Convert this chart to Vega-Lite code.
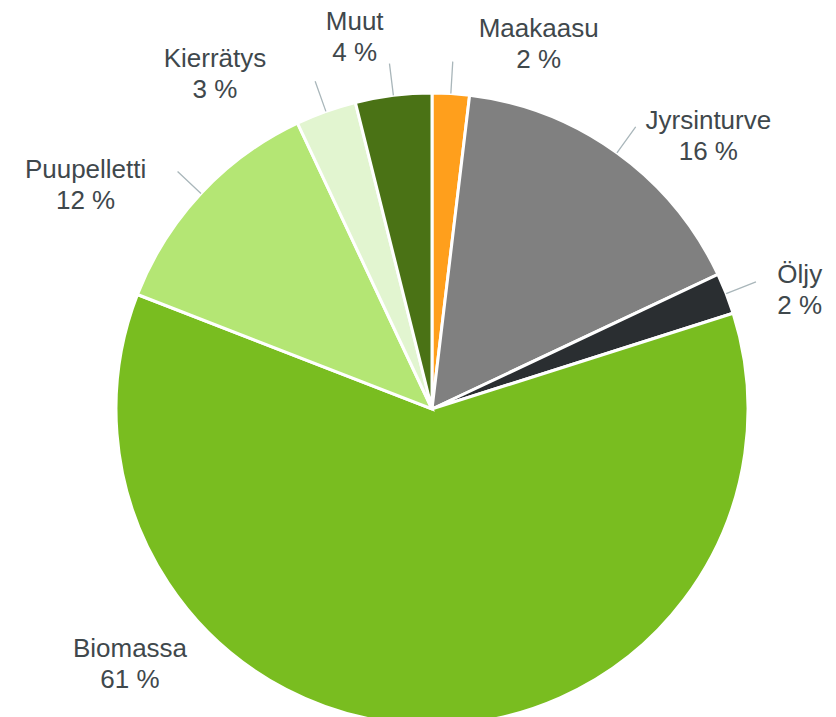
{
  "$schema": "https://vega.github.io/schema/vega-lite/v6.json",
  "autosize": {"type": "none"},
  "padding": {"left": 28, "top": 101, "right": 0, "bottom": 0},
  "width": 808,
  "height": 616,
  "background": "white",
  "config": {"view": {"stroke": null}},
  "data": {
    "values": [
      {"i": 0, "k": "Maakaasu", "v": 1.9, "label": "Maakaasu\n2 %"},
      {"i": 1, "k": "Jyrsinturve", "v": 16.1, "label": "Jyrsinturve\n16 %"},
      {"i": 2, "k": "Öljy", "v": 2.1, "label": "Öljy\n2 %"},
      {"i": 3, "k": "Biomassa", "v": 60.8, "label": "Biomassa\n61 %"},
      {"i": 4, "k": "Puupelletti", "v": 12.1, "label": "Puupelletti\n12 %"},
      {"i": 5, "k": "Kierrätys", "v": 3.1, "label": "Kierrätys\n3 %"},
      {"i": 6, "k": "Muut", "v": 3.9, "label": "Muut\n4 %"}
    ]
  },
  "encoding": {
    "theta": {"field": "v", "type": "quantitative", "stack": true},
    "order": {"field": "i", "type": "quantitative"}
  },
  "layer": [
    {
      "mark": {"type": "arc", "outerRadius": 316, "stroke": "white", "strokeWidth": 3},
      "encoding": {
        "color": {
          "field": "k",
          "type": "nominal",
          "legend": null,
          "scale": {
            "domain": ["Maakaasu", "Jyrsinturve", "Öljy", "Biomassa", "Puupelletti", "Kierrätys", "Muut"],
            "range": ["#FF9F1C", "#808080", "#2A2E31", "#79BD20", "#B4E674", "#E2F5D0", "#4A7215"]
          }
        }
      }
    },
    {
      "mark": {"type": "arc", "innerRadius": 316, "outerRadius": 348, "padAngle": 3, "filled": false, "stroke": "#A9B6BA", "strokeWidth": 1.3},
      "encoding": {
        "detail": {"field": "k"},
        "strokeOpacity": {"condition": {"test": "datum.k === 'Biomassa'", "value": 0}, "value": 1}
      }
    },
    {
      "mark": {"type": "text", "radius": 370, "dx": 84.6, "dy": -2.4, "align": "center", "baseline": "alphabetic", "font": "Liberation Sans", "fontSize": 26, "lineHeight": 31, "lineBreak": "\n", "color": "#3F484C"},
      "encoding": {"detail": {"field": "k"}, "text": {"condition": {"test": "datum.k === 'Maakaasu'", "field": "label"}, "value": ""}}
    },
    {
      "mark": {"type": "text", "radius": 370, "dx": 59.8, "dy": 20.3, "align": "center", "baseline": "alphabetic", "font": "Liberation Sans", "fontSize": 26, "lineHeight": 31, "lineBreak": "\n", "color": "#3F484C"},
      "encoding": {"detail": {"field": "k"}, "text": {"condition": {"test": "datum.k === 'Jyrsinturve'", "field": "label"}, "value": ""}}
    },
    {
      "mark": {"type": "text", "radius": 370, "dx": 23.3, "dy": 8.8, "align": "center", "baseline": "alphabetic", "font": "Liberation Sans", "fontSize": 26, "lineHeight": 31, "lineBreak": "\n", "color": "#3F484C"},
      "encoding": {"detail": {"field": "k"}, "text": {"condition": {"test": "datum.k === 'Öljy'", "field": "label"}, "value": ""}}
    },
    {
      "mark": {"type": "text", "radius": 370, "dx": -290.4, "dy": -121.5, "align": "center", "baseline": "alphabetic", "font": "Liberation Sans", "fontSize": 26, "lineHeight": 31, "lineBreak": "\n", "color": "#3F484C"},
      "encoding": {"detail": {"field": "k"}, "text": {"condition": {"test": "datum.k === 'Biomassa'", "field": "label"}, "value": ""}}
    },
    {
      "mark": {"type": "text", "radius": 370, "dx": -75.9, "dy": 21.0, "align": "center", "baseline": "alphabetic", "font": "Liberation Sans", "fontSize": 26, "lineHeight": 31, "lineBreak": "\n", "color": "#3F484C"},
      "encoding": {"detail": {"field": "k"}, "text": {"condition": {"test": "datum.k === 'Puupelletti'", "field": "label"}, "value": ""}}
    },
    {
      "mark": {"type": "text", "radius": 370, "dx": -92.8, "dy": 6.2, "align": "center", "baseline": "alphabetic", "font": "Liberation Sans", "fontSize": 26, "lineHeight": 31, "lineBreak": "\n", "color": "#3F484C"},
      "encoding": {"detail": {"field": "k"}, "text": {"condition": {"test": "datum.k === 'Kierrätys'", "field": "label"}, "value": ""}}
    },
    {
      "mark": {"type": "text", "radius": 370, "dx": -32.1, "dy": -11.8, "align": "center", "baseline": "alphabetic", "font": "Liberation Sans", "fontSize": 26, "lineHeight": 31, "lineBreak": "\n", "color": "#3F484C"},
      "encoding": {"detail": {"field": "k"}, "text": {"condition": {"test": "datum.k === 'Muut'", "field": "label"}, "value": ""}}
    }
  ]
}
